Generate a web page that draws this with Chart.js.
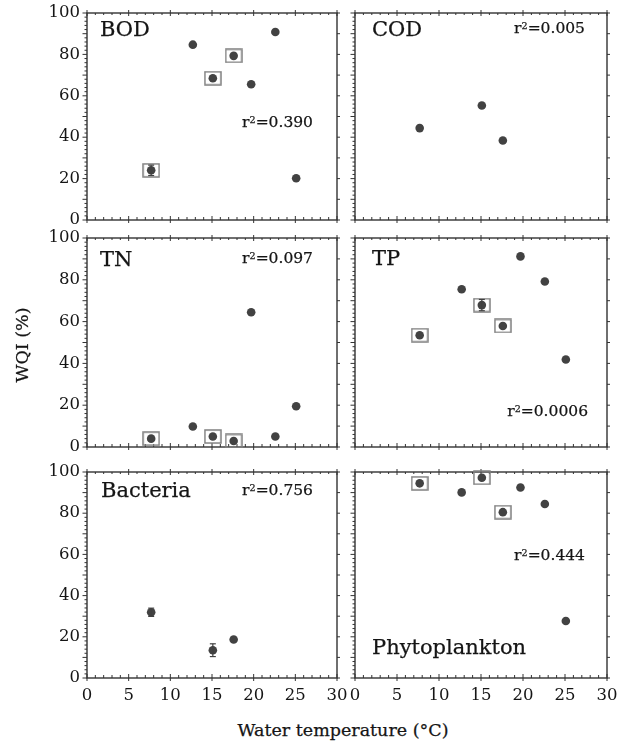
<!DOCTYPE html>
<html>
<head>
<meta charset="UTF-8">
<title>WQI vs water temperature</title>
<script src="https://cdn.jsdelivr.net/npm/chart.js@4.4.1/dist/chart.umd.min.js"></script>
<style>
  body { margin: 0; background: #fff; }
  #page { position: relative; width: 630px; height: 745px; overflow: hidden; font-family: "DejaVu Serif", serif; color: #151515; }
  canvas { position: absolute; }
  .lbl { position: absolute; white-space: nowrap; line-height: 1; -webkit-text-stroke: 0.25px #151515; }
  .sup { position: relative; top: -0.45em; font-size: 0.62em; }
</style>
</head>
<body>
<div id="page"></div>
<script>
// water temperature (deg C) of the seven samplings, shared by every panel
var temp = [7.7, 12.7, 15.1, 17.6, 19.7, 22.6, 25.1];

// WQI (%) per sampling, null = not measured
var bod      = [24.0, 84.7, 68.5, 79.3, 65.6, 90.8, 20.2];
var cod      = [44.4, null, 55.3, 38.4, null, null, null];
var tn       = [4.0, 9.8, 5.0, 2.9, 64.5, 5.0, 19.5];
var tp       = [53.5, 75.5, 67.9, 57.9, 91.2, 79.2, 41.9];
var bacteria = [31.9, null, 13.5, 18.7, null, null, null];
var phyto    = [94.5, 90.1, 97.2, 80.5, 92.5, 84.5, 27.7];

// error bars (+/- %)
var bodErr = [2.5, 0, 0, 0, 0, 0, 0];
var tpErr  = [0, 0, 2.7, 0, 0, 0, 0];
var bacErr = [2.0, 0, 3.1, 0, 0, 0, 0];

// samplings marked with a box
var boxed = [true, false, true, true, false, false, false];

var xTicks = [0, 5, 10, 15, 20, 25, 30];
var yTicks = [0, 20, 40, 60, 80, 100];

var panels = [
  { name: 'BOD', vals: bod, err: bodErr, box: true, r2: '0.390', col: 0, row: 0 },
  { name: 'COD', vals: cod, err: null, box: false, r2: '0.005', col: 1, row: 0 },
  { name: 'TN', vals: tn, err: null, box: true, r2: '0.097', col: 0, row: 1 },
  { name: 'TP', vals: tp, err: tpErr, box: true, r2: '0.0006', col: 1, row: 1 },
  { name: 'Bacteria', vals: bacteria, err: bacErr, box: false, r2: '0.756', col: 0, row: 2 },
  { name: 'Phytoplankton', vals: phyto, err: null, box: true, r2: '0.444', col: 1, row: 2 }
];

// layout (page pixels)
var cols = [[87, 337], [355, 607]];
var rows = [[13, 220], [238, 447], [472, 678]];
var M = { l: 45, r: 14, t: 9, b: 28 };
// label positions: [x, centre y] for name (left aligned) and r2 (right aligned)
var namePos = [[100, 29], [372, 29], [100, 259], [372, 258], [101, 490], [372, 647]];
var r2Pos = [[313, 123], [585, 29], [313, 259], [588, 412], [313, 491], [585, 556]];

var page = document.getElementById('page');
var tickFont = { family: 'DejaVu Serif', size: 16.5 };

function place(html, x, y, size, ax, rot) {
  var d = document.createElement('div');
  d.className = 'lbl';
  d.innerHTML = html;
  d.style.left = x + 'px';
  d.style.top = y + 'px';
  d.style.fontSize = size + 'px';
  d.style.transform = 'translate(' + (-ax * 100) + '%, -50%)' + (rot ? ' rotate(' + rot + 'deg)' : '');
  page.appendChild(d);
}

// hollow box used as point style for the marked samplings
var boxImg = document.createElement('canvas');
boxImg.width = 18; boxImg.height = 15;
(function () {
  var c = boxImg.getContext('2d');
  c.strokeStyle = '#808080';
  c.lineWidth = 1.5;
  c.strokeRect(1, 1, 16, 13);
})();

function line(ctx, x1, y1, x2, y2) {
  ctx.beginPath(); ctx.moveTo(x1, y1); ctx.lineTo(x2, y2); ctx.stroke();
}

var framePlugin = {
  id: 'frame',
  beforeDatasetsDraw: function (chart) {
    var ctx = chart.ctx, a = chart.chartArea, xs = chart.scales.x, ys = chart.scales.y;
    ctx.save();
    ctx.strokeStyle = '#333';
    ctx.lineWidth = 1;
    for (var v = 0; v <= 30; v++) {
      var px = xs.getPixelForValue(v);
      var big = v % 5 === 0;
      line(ctx, px, a.bottom + (big ? 3 : 0), px, a.bottom - (big ? 4 : 3));
      line(ctx, px, a.top - (big ? 3 : 0), px, a.top + (big ? 3 : 2));
    }
    for (var w = 0; w <= 100; w += 2) {
      var py = ys.getPixelForValue(w);
      var len = w % 10 === 0 ? 4.5 : 2.5;
      line(ctx, a.left - len, py, a.left, py);
      if (w % 10 === 0) line(ctx, a.right, py, a.right + 3, py);
    }
    ctx.lineWidth = 1.4;
    ctx.strokeRect(a.left, a.top, a.right - a.left, a.bottom - a.top);
    ctx.restore();
  },
  afterDatasetsDraw: function (chart) {
    var err = chart.options.plugins.frame.err;
    var vals = chart.options.plugins.frame.vals;
    if (!err) return;
    var ctx = chart.ctx, xs = chart.scales.x, ys = chart.scales.y;
    ctx.save();
    ctx.strokeStyle = '#404040';
    ctx.lineWidth = 1.2;
    for (var i = 0; i < err.length; i++) {
      if (!err[i] || vals[i] == null) continue;
      var px = xs.getPixelForValue(temp[i]);
      var y1 = ys.getPixelForValue(vals[i] + err[i]);
      var y2 = ys.getPixelForValue(vals[i] - err[i]);
      line(ctx, px, y1, px, y2);
      line(ctx, px - 3, y1, px + 3, y1);
      line(ctx, px - 3, y2, px + 3, y2);
    }
    ctx.restore();
  }
};

panels.forEach(function (p, k) {
  var L = cols[p.col][0], R = cols[p.col][1];
  var T = rows[p.row][0], B = rows[p.row][1];
  var cv = document.createElement('canvas');
  cv.width = (R - L) + M.l + M.r;
  cv.height = (B - T) + M.t + M.b;
  cv.style.left = (L - M.l) + 'px';
  cv.style.top = (T - M.t) + 'px';
  page.appendChild(cv);

  var pts = [], boxPts = [];
  for (var i = 0; i < temp.length; i++) {
    if (p.vals[i] == null) continue;
    pts.push({ x: temp[i], y: p.vals[i] });
    if (p.box && boxed[i]) boxPts.push({ x: temp[i], y: p.vals[i] });
  }

  new Chart(cv, {
    type: 'scatter',
    data: {
      datasets: [
        { data: pts, pointRadius: 4.3, pointBackgroundColor: '#424242', pointBorderWidth: 0, clip: false },
        { data: boxPts, pointStyle: boxImg, pointRadius: 8, clip: false }
      ]
    },
    options: {
      responsive: false,
      animation: false,
      events: [],
      layout: { padding: { top: M.t, right: M.r, left: 0, bottom: 0 } },
      plugins: {
        legend: { display: false },
        tooltip: { enabled: false },
        frame: { err: p.err, vals: p.vals }
      },
      scales: {
        x: {
          type: 'linear', min: 0, max: 30,
          grid: { display: false, drawTicks: false },
          border: { display: false },
          afterBuildTicks: function (s) { s.ticks = xTicks.map(function (v) { return { value: v }; }); },
          ticks: { display: p.row === 2, font: tickFont, color: '#151515', padding: 8, autoSkip: false, maxRotation: 0 },
          afterFit: function (s) { s.height = M.b; s.paddingLeft = 0; s.paddingRight = 0; }
        },
        y: {
          type: 'linear', min: 0, max: 100,
          grid: { display: false, drawTicks: false },
          border: { display: false },
          afterBuildTicks: function (s) { s.ticks = yTicks.map(function (v) { return { value: v }; }); },
          ticks: { display: p.col === 0, font: tickFont, color: '#151515', padding: 7 },
          afterFit: function (s) { s.width = M.l; s.paddingTop = 0; s.paddingBottom = 0; }
        }
      }
    },
    plugins: [framePlugin]
  });

  place(p.name, namePos[k][0], namePos[k][1], 21, 0);
  place('r<span class="sup">2</span>=' + p.r2, r2Pos[k][0], r2Pos[k][1], 15.5, 1);
});

place('WQI (%)', 23, 345, 17.5, 0.5, -90);
place('Water temperature (°C)', 343, 731, 17.5, 0.5);
</script>
</body>
</html>
